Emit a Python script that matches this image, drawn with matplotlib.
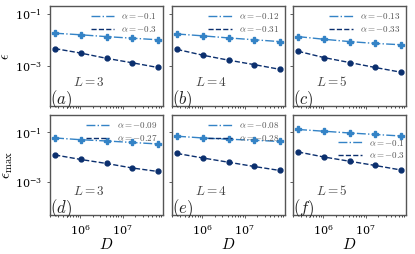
import numpy as np
import matplotlib
matplotlib.use("Agg")
import matplotlib.pyplot as plt
from matplotlib.lines import Line2D

plt.rcParams["mathtext.fontset"] = "cm"
plt.rcParams["font.family"] = "serif"
plt.rcParams["font.serif"] = ["DejaVu Serif"]

# system sizes D (same for every panel)
D = [4**9, 4**10, 4**11, 4**12, 4**13]
L_vals = [3, 4, 5]
panel_tags = [["(a)", "(b)", "(c)"], ["(d)", "(e)", "(f)"]]

# log10 of the errors
eps_bar_light = [[-1.74, -1.80, -1.87, -1.93, -1.99],
                 [-1.77, -1.84, -1.92, -1.99, -2.06],
                 [-1.87, -1.97, -2.06, -2.13, -2.18]]
eps_bar_dark = [[-2.33, -2.50, -2.70, -2.87, -3.05],
                [-2.36, -2.58, -2.77, -2.94, -3.12],
                [-2.43, -2.67, -2.86, -3.05, -3.23]]
eps_max_light = [[-1.22, -1.29, -1.34, -1.40, -1.46],
                 [-1.15, -1.22, -1.27, -1.31, -1.36],
                 [-0.88, -0.95, -1.02, -1.08, -1.14]]
eps_max_dark = [[-1.90, -2.08, -2.24, -2.42, -2.56],
                [-1.84, -2.02, -2.19, -2.36, -2.52],
                [-1.78, -1.98, -2.15, -2.32, -2.50]]

alpha_light = [["-0.1", "-0.12", "-0.13"], ["-0.09", "-0.08", "-0.1"]]
alpha_dark = [["-0.3", "-0.31", "-0.33"], ["-0.27", "-0.28", "-0.3"]]

c_light = "#3483c6"
c_dark = "#0b2f6e"

fig = plt.figure(figsize=(4.15, 2.54), dpi=100)
lefts = [50, 172, 293]
width = 113
rows = [(6, 106), (115, 215)]
ylims = [(3e-5, 0.2), (5e-5, 0.5)]

for r in range(2):
    for c in range(3):
        top, bot = rows[r]
        ax = fig.add_axes([lefts[c] / 415, 1 - bot / 254, width / 415, (bot - top) / 254])
        if r == 0:
            yl, yd = eps_bar_light[c], eps_bar_dark[c]
        else:
            yl, yd = eps_max_light[c], eps_max_dark[c]
        ax.plot(D, 10 ** np.array(yl), "-.", color=c_light, marker="P", ms=4.5, lw=1)
        ax.plot(D, 10 ** np.array(yd), "--", color=c_dark, marker="o", ms=3.5, lw=1)
        ax.set_xscale("log")
        ax.set_yscale("log")
        ax.set_ylim(*ylims[r])
        ax.set_yticks([1e-1, 1e-3])
        ax.yaxis.set_minor_locator(matplotlib.ticker.NullLocator())
        ax.tick_params(labelsize=8, length=2.5, width=0.6, color="#444444")
        ax.tick_params(which="minor", length=1.5, width=0.5)
        for sp in ax.spines.values():
            sp.set_color("#555555")
            sp.set_linewidth(1)
        if r == 0:
            ax.tick_params(axis="x", which="both", labelbottom=False)
        else:
            ax.set_xticks([1e6, 1e7])
            ax.set_xlabel(r"$D$", fontsize=11, labelpad=0)
        if c > 0:
            ax.set_yticklabels([])
        handles = [Line2D([], [], ls="-.", color=c_light, lw=1),
                   Line2D([], [], ls="--", color=c_dark, lw=1)]
        labels = [r"$\alpha=%s$" % alpha_light[r][c], r"$\alpha=%s$" % alpha_dark[r][c]]
        if r == 1 and c == 2:
            ax.legend(handles, labels, loc="center left", bbox_to_anchor=(0.37, 0.66),
                      fontsize=6.5, frameon=False, handlelength=2.6,
                      borderaxespad=0.0, labelspacing=0.3, labelcolor="#555555")
        else:
            ax.legend(handles, labels, loc="upper right", fontsize=6.5, frameon=False,
                      handlelength=2.6, borderaxespad=0.2, labelspacing=0.3,
                      labelcolor="#555555")
        ax.text(0.2, 0.2, r"$L=%d$" % L_vals[c], transform=ax.transAxes,
                fontsize=9.5, color="#444444")
        ax.text(0.0, 0.02, r"$%s$" % panel_tags[r][c], transform=ax.transAxes,
                fontsize=12, color="#222222")
        if c == 0:
            if r == 0:
                ax.set_ylabel(r"$\overline{\epsilon}$", fontsize=10, labelpad=1)
            else:
                ax.set_ylabel(r"$\epsilon_{\max}$", fontsize=11, labelpad=0)

fig.savefig("out.png", dpi=100)
